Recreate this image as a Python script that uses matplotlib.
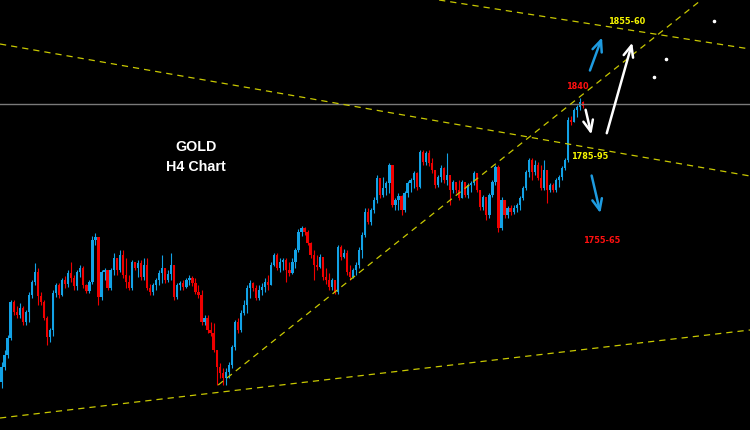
import numpy as np
import matplotlib
matplotlib.use("Agg")
import matplotlib.pyplot as plt

# H4 gold candles (open of each bar = previous close)
first_open = 1699
close = [1706.5, 1712.5, 1721, 1739, 1734, 1732.5, 1736, 1729, 1734, 1742.5,
         1749, 1754, 1742, 1739, 1731, 1721.5, 1725, 1743.5, 1747.5, 1742.5,
         1750, 1748, 1753.5, 1751, 1747, 1754, 1756, 1747.5, 1744.5, 1749,
         1770, 1771.5, 1741.5, 1754, 1755, 1746, 1755, 1761, 1755, 1762.5,
         1752.5, 1749, 1746, 1759, 1756, 1758.5, 1751.5, 1757.5, 1746, 1744,
         1747.5, 1750, 1753.5, 1756, 1750, 1753, 1757.5, 1741.5, 1747.5, 1748.5,
         1746.5, 1750, 1751, 1748.5, 1744, 1742.5, 1729, 1731, 1725, 1723.5,
         1715, 1706.5, 1703.5, 1701, 1704, 1707.5, 1716.5, 1729, 1725, 1733.5,
         1737.5, 1746, 1748.5, 1746, 1741, 1745, 1746.5, 1749, 1747.5, 1757.5,
         1762.5, 1756, 1759, 1760, 1755, 1753.5, 1759, 1765, 1774, 1776,
         1774, 1768.5, 1762.5, 1757.5, 1756.5, 1761.5, 1751.5, 1750, 1746.5, 1750,
         1744, 1766.5, 1761.5, 1763.5, 1754, 1751.5, 1755, 1757.5, 1765, 1772.5,
         1784, 1779, 1785, 1790, 1801, 1792.5, 1796, 1798.5, 1807.5, 1787.5,
         1790, 1792, 1785, 1793.5, 1798.5, 1800, 1803.5, 1796.5, 1814, 1809,
         1813.5, 1808.5, 1805, 1797.5, 1801.5, 1806, 1800, 1802.5, 1795, 1799,
         1795, 1791, 1799, 1792.5, 1797.5, 1798.5, 1803.5, 1795, 1786.5, 1791.5,
         1782.5, 1792.5, 1799, 1806.5, 1776, 1790, 1782.5, 1786, 1784, 1786,
         1787.5, 1791, 1796, 1804, 1810, 1804, 1807.5, 1801, 1796, 1805,
         1795, 1797.5, 1795, 1800, 1801.5, 1806, 1810, 1830, 1829, 1835,
         1836.5, 1839, 1837]
high = [1709, 1715, 1722.5, 1740, 1740, 1737, 1738.5, 1737, 1735, 1744,
        1750, 1758.5, 1756, 1744, 1740, 1732, 1726, 1745, 1748.5, 1748.5,
        1751, 1752, 1755, 1759, 1752.5, 1755, 1757.5, 1757, 1748, 1750,
        1772, 1773.5, 1771, 1755, 1756, 1754, 1756, 1763.5, 1761, 1765,
        1765, 1761, 1752.5, 1760, 1759, 1760, 1760, 1761, 1761, 1748,
        1748.5, 1751, 1755, 1762.5, 1756, 1755, 1763.5, 1757.5, 1748.5, 1749.5,
        1750, 1751, 1752.5, 1752, 1751, 1747.5, 1745, 1732.5, 1732.5, 1729,
        1728.5, 1715, 1708.5, 1706, 1706, 1709, 1717.5, 1730, 1731, 1735,
        1740, 1747.5, 1750, 1749, 1747.5, 1747.5, 1748.5, 1751, 1752.5, 1759,
        1763.5, 1763.5, 1761, 1761, 1761, 1759, 1761, 1766, 1775.5, 1777,
        1776.5, 1775, 1769, 1765, 1762.5, 1763, 1759, 1756, 1753.5, 1751,
        1749, 1767.5, 1767.5, 1765.5, 1765, 1757.5, 1756, 1759, 1766.5, 1774,
        1786, 1786, 1786, 1791.5, 1802.5, 1801, 1801.5, 1799.5, 1808.5, 1807.5,
        1791, 1793.5, 1792.5, 1794.5, 1799.5, 1801, 1804.5, 1804, 1815, 1815,
        1814.5, 1815, 1811, 1805, 1802.5, 1807.5, 1806.5, 1813.5, 1801, 1800,
        1798.5, 1800, 1800, 1799, 1798.5, 1799.5, 1804.5, 1803.5, 1795, 1792.5,
        1790, 1793.5, 1800, 1807.5, 1807.5, 1791.5, 1790, 1787, 1787.5, 1787.5,
        1788.5, 1792, 1797, 1805, 1811, 1811, 1810, 1809, 1807.5, 1810,
        1805, 1798.5, 1798.5, 1801, 1802.5, 1807, 1811, 1831.5, 1832, 1836,
        1837.5, 1841, 1839.5]
low = [1696, 1705, 1711, 1720, 1732.5, 1731, 1731, 1727.5, 1727.5, 1729,
       1741, 1747.5, 1737.5, 1737.5, 1730, 1717.5, 1719, 1722, 1741.5, 1741,
       1742, 1746, 1746.5, 1749, 1745, 1745, 1751.5, 1746, 1743.5, 1743.5,
       1748, 1767.5, 1737.5, 1740, 1750, 1745, 1745, 1752.5, 1752.5, 1754,
       1751, 1746, 1745, 1745, 1755, 1751.5, 1750, 1750, 1745, 1742.5,
       1742.5, 1745, 1747.5, 1748.5, 1748.5, 1749, 1750, 1740, 1740.5, 1745,
       1745, 1746, 1747.5, 1747, 1743, 1741, 1727.5, 1727.5, 1723.5, 1722,
       1714, 1697.5, 1701, 1697.5, 1697.5, 1701, 1706, 1715, 1723.5, 1724,
       1732.5, 1733.5, 1741, 1744.5, 1740, 1740, 1742.5, 1744, 1745, 1747.5,
       1757, 1755, 1754, 1755, 1749, 1752, 1753, 1756, 1764, 1772,
       1772.5, 1767.5, 1761, 1750, 1755, 1756, 1750, 1748, 1745, 1745,
       1743, 1743, 1760, 1761, 1752.5, 1750, 1751, 1752.5, 1756, 1761,
       1771.5, 1778, 1777.5, 1783.5, 1788.5, 1791, 1791.5, 1792.5, 1793.5, 1786.5,
       1785, 1785, 1782.5, 1784, 1791.5, 1794, 1796, 1795, 1796, 1807.5,
       1807.5, 1807, 1803.5, 1796, 1796.5, 1799, 1798.5, 1797.5, 1787.5, 1793.5,
       1793.5, 1790, 1791, 1791.5, 1791, 1794, 1797.5, 1794, 1785, 1785,
       1780, 1781, 1791.5, 1797.5, 1774, 1775, 1781, 1781, 1782.5, 1783,
       1784, 1785, 1790, 1795, 1801.5, 1800, 1802.5, 1800, 1795, 1795,
       1788.5, 1794, 1794, 1794, 1796.5, 1800, 1805, 1809, 1827.5, 1829,
       1831.5, 1835, 1836]

# drawn levels: (bar, price) anchors
resist_top = [(177.9, 1882), (247.0, 1865.5)]
resist_mid = [(-0.5, 1868), (247.0, 1802)]
support_up = [(71.5, 1697.5), (230.9, 1890)]
support_low = [(-0.5, 1681), (247.0, 1725)]
last_level = 1838

close = np.array(close)
high = np.array(high)
low = np.array(low)
opens = np.concatenate([[first_open], close[:-1]])
idx = np.arange(len(close))

up_col = '#12a2e6'
dn_col = '#f00000'
cols = np.where(close >= opens, up_col, dn_col)
body = close - opens
body = np.where(np.abs(body) < 0.4, 0.4, body)

fig = plt.figure(figsize=(7.5, 4.3), dpi=100, facecolor='black')
ax = fig.add_axes([0, 0, 1, 1])
ax.set_facecolor('black')

ax.vlines(idx, low, high, colors=cols, lw=0.8)
ax.bar(idx, body, bottom=opens, width=0.75, color=cols, linewidth=0)

ax.axhline(last_level, color='#7a7a7a', lw=1.0)

ycol = '#c8c800'
dash = (0, (5, 4))
ax.axline(resist_top[0], resist_top[1], color=ycol, lw=0.9, ls=dash)
ax.axline(resist_mid[0], resist_mid[1], color=ycol, lw=0.9, ls=dash)
ax.axline(support_low[0], support_low[1], color=ycol, lw=0.9, ls=dash)
ax.plot([p[0] for p in support_up], [p[1] for p in support_up], color=ycol, lw=0.9, ls=dash)

ax.set_xlim(-0.5, 247.0)
ax.set_ylim(1675, 1890)
ax.axis('off')

# texts
bold = dict(family='Liberation Sans', weight='bold', ha='center', va='center')
ax.text(0.2613, 0.658, 'GOLD', color='white', fontsize=10.3, transform=ax.transAxes, **bold)
ax.text(0.2613, 0.612, 'H4 Chart', color='white', fontsize=10.3, transform=ax.transAxes, **bold)

lbl = dict(family='DejaVu Sans', weight='bold', ha='center', va='center', fontsize=5.9)
ax.text(0.7693, 0.798, '1840', color='#ff1010', transform=ax.transAxes, **lbl)
ax.text(0.836, 0.949, '1855-60', color='#f5f500', transform=ax.transAxes, **lbl)
ax.text(0.786, 0.635, '1785-95', color='#f5f500', transform=ax.transAxes, **lbl)
ax.text(0.8027, 0.440, '1755-65', color='#ff1010', transform=ax.transAxes, **lbl)

# arrows (tail -> head, axes fraction)
arrows = [((0.7853, 0.830), (0.8040, 0.919), '#1e9be0'),
          ((0.7800, 0.751), (0.7893, 0.681), 'white'),
          ((0.8080, 0.684), (0.8440, 0.907), 'white'),
          ((0.7880, 0.598), (0.8013, 0.498), '#1e9be0')]
for tail, head, c in arrows:
    ax.annotate('', xy=head, xytext=tail, xycoords='axes fraction', textcoords='axes fraction',
                arrowprops=dict(arrowstyle='->,head_length=0.8,head_width=0.35', color=c, lw=1.8))

# white dots
ax.scatter([0.952, 0.888, 0.872], [0.951, 0.863, 0.821], s=2.5, color='white', transform=ax.transAxes)

plt.savefig('out.png', dpi=100, facecolor='black')
